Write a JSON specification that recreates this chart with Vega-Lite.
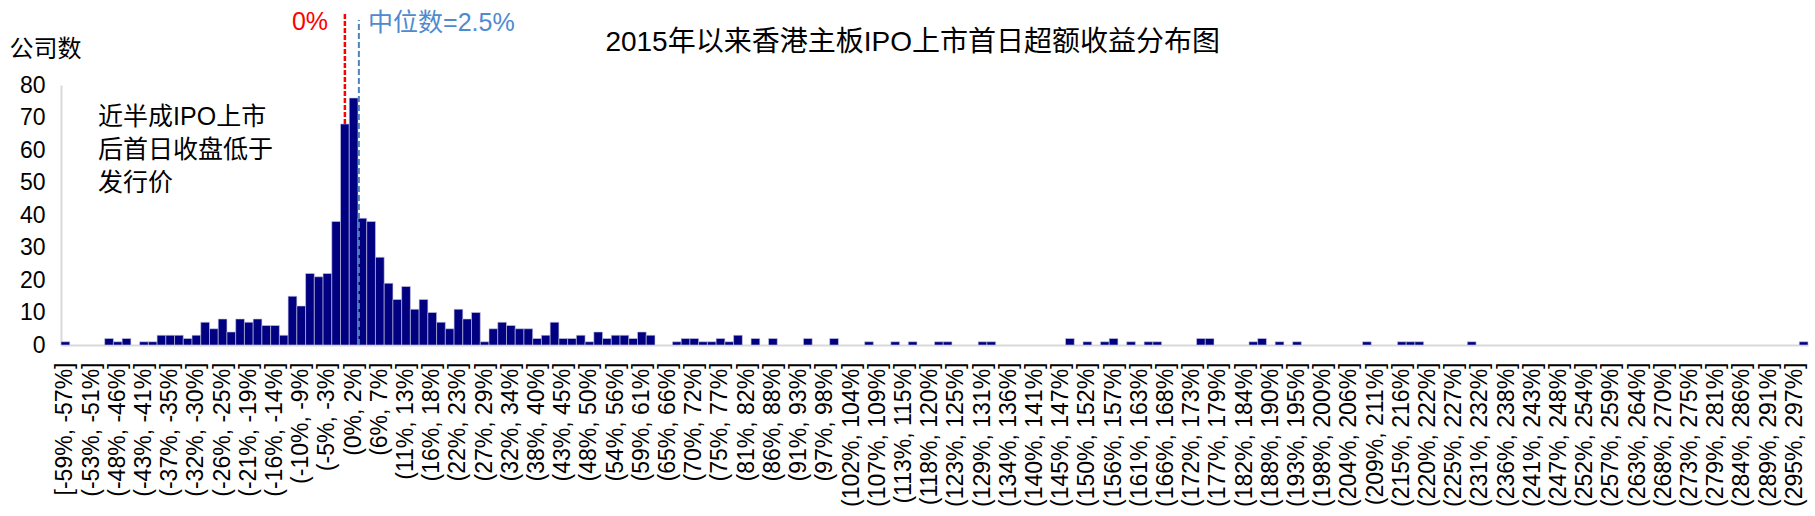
{
  "$schema": "https://vega.github.io/schema/vega-lite/v6.json",
  "autosize": {"type": "none"},
  "width": 1747,
  "height": 260,
  "padding": {"left": 61, "top": 85, "right": 7, "bottom": 171},
  "background": "white",
  "config": {"view": {"stroke": null}},
  "data": {"values": [
    {"bin": "[-59%, -57%]", "n": 1}, {"bin": "(-57%, -55%]", "n": 0}, {"bin": "(-55%, -53%]", "n": 0},
    {"bin": "(-53%, -51%]", "n": 0}, {"bin": "(-51%, -50%]", "n": 0}, {"bin": "(-50%, -48%]", "n": 2},
    {"bin": "(-48%, -46%]", "n": 1}, {"bin": "(-46%, -44%]", "n": 2}, {"bin": "(-44%, -43%]", "n": 0},
    {"bin": "(-43%, -41%]", "n": 1}, {"bin": "(-41%, -39%]", "n": 1}, {"bin": "(-39%, -37%]", "n": 3},
    {"bin": "(-37%, -35%]", "n": 3}, {"bin": "(-35%, -34%]", "n": 3}, {"bin": "(-34%, -32%]", "n": 2},
    {"bin": "(-32%, -30%]", "n": 3}, {"bin": "(-30%, -28%]", "n": 7}, {"bin": "(-28%, -26%]", "n": 5},
    {"bin": "(-26%, -25%]", "n": 8}, {"bin": "(-25%, -23%]", "n": 4}, {"bin": "(-23%, -21%]", "n": 8},
    {"bin": "(-21%, -19%]", "n": 7}, {"bin": "(-19%, -17%]", "n": 8}, {"bin": "(-17%, -16%]", "n": 6},
    {"bin": "(-16%, -14%]", "n": 6}, {"bin": "(-14%, -12%]", "n": 3}, {"bin": "(-12%, -10%]", "n": 15},
    {"bin": "(-10%, -9%]", "n": 12}, {"bin": "(-9%, -7%]", "n": 22}, {"bin": "(-7%, -5%]", "n": 21},
    {"bin": "(-5%, -3%]", "n": 22}, {"bin": "(-3%, -2%]", "n": 38}, {"bin": "(-2%, 0%]", "n": 68},
    {"bin": "(0%, 2%]", "n": 76}, {"bin": "(2%, 4%]", "n": 39}, {"bin": "(4%, 6%]", "n": 38},
    {"bin": "(6%, 7%]", "n": 27}, {"bin": "(7%, 9%]", "n": 19}, {"bin": "(9%, 11%]", "n": 14},
    {"bin": "(11%, 13%]", "n": 18}, {"bin": "(13%, 15%]", "n": 11}, {"bin": "(15%, 16%]", "n": 14},
    {"bin": "(16%, 18%]", "n": 10}, {"bin": "(18%, 20%]", "n": 7}, {"bin": "(20%, 22%]", "n": 5},
    {"bin": "(22%, 23%]", "n": 11}, {"bin": "(23%, 25%]", "n": 8}, {"bin": "(25%, 27%]", "n": 10},
    {"bin": "(27%, 29%]", "n": 1}, {"bin": "(29%, 31%]", "n": 5}, {"bin": "(31%, 32%]", "n": 7},
    {"bin": "(32%, 34%]", "n": 6}, {"bin": "(34%, 36%]", "n": 5}, {"bin": "(36%, 38%]", "n": 5},
    {"bin": "(38%, 40%]", "n": 2}, {"bin": "(40%, 41%]", "n": 3}, {"bin": "(41%, 43%]", "n": 7},
    {"bin": "(43%, 45%]", "n": 2}, {"bin": "(45%, 47%]", "n": 2}, {"bin": "(47%, 48%]", "n": 3},
    {"bin": "(48%, 50%]", "n": 1}, {"bin": "(50%, 52%]", "n": 4}, {"bin": "(52%, 54%]", "n": 2},
    {"bin": "(54%, 56%]", "n": 3}, {"bin": "(56%, 57%]", "n": 3}, {"bin": "(57%, 59%]", "n": 2},
    {"bin": "(59%, 61%]", "n": 4}, {"bin": "(61%, 63%]", "n": 3}, {"bin": "(63%, 65%]", "n": 0},
    {"bin": "(65%, 66%]", "n": 0}, {"bin": "(66%, 68%]", "n": 1}, {"bin": "(68%, 70%]", "n": 2},
    {"bin": "(70%, 72%]", "n": 2}, {"bin": "(72%, 73%]", "n": 1}, {"bin": "(73%, 75%]", "n": 1},
    {"bin": "(75%, 77%]", "n": 2}, {"bin": "(77%, 79%]", "n": 1}, {"bin": "(79%, 81%]", "n": 3},
    {"bin": "(81%, 82%]", "n": 0}, {"bin": "(82%, 84%]", "n": 2}, {"bin": "(84%, 86%]", "n": 0},
    {"bin": "(86%, 88%]", "n": 2}, {"bin": "(88%, 90%]", "n": 0}, {"bin": "(90%, 91%]", "n": 0},
    {"bin": "(91%, 93%]", "n": 0}, {"bin": "(93%, 95%]", "n": 2}, {"bin": "(95%, 97%]", "n": 0},
    {"bin": "(97%, 98%]", "n": 0}, {"bin": "(98%, 100%]", "n": 2}, {"bin": "(100%, 102%]", "n": 0},
    {"bin": "(102%, 104%]", "n": 0}, {"bin": "(104%, 106%]", "n": 0}, {"bin": "(106%, 107%]", "n": 1},
    {"bin": "(107%, 109%]", "n": 0}, {"bin": "(109%, 111%]", "n": 0}, {"bin": "(111%, 113%]", "n": 1},
    {"bin": "(113%, 115%]", "n": 0}, {"bin": "(115%, 116%]", "n": 1}, {"bin": "(116%, 118%]", "n": 0},
    {"bin": "(118%, 120%]", "n": 0}, {"bin": "(120%, 122%]", "n": 1}, {"bin": "(122%, 123%]", "n": 1},
    {"bin": "(123%, 125%]", "n": 0}, {"bin": "(125%, 127%]", "n": 0}, {"bin": "(127%, 129%]", "n": 0},
    {"bin": "(129%, 131%]", "n": 1}, {"bin": "(131%, 132%]", "n": 1}, {"bin": "(132%, 134%]", "n": 0},
    {"bin": "(134%, 136%]", "n": 0}, {"bin": "(136%, 138%]", "n": 0}, {"bin": "(138%, 140%]", "n": 0},
    {"bin": "(140%, 141%]", "n": 0}, {"bin": "(141%, 143%]", "n": 0}, {"bin": "(143%, 145%]", "n": 0},
    {"bin": "(145%, 147%]", "n": 0}, {"bin": "(147%, 148%]", "n": 2}, {"bin": "(148%, 150%]", "n": 0},
    {"bin": "(150%, 152%]", "n": 1}, {"bin": "(152%, 154%]", "n": 0}, {"bin": "(154%, 156%]", "n": 1},
    {"bin": "(156%, 157%]", "n": 2}, {"bin": "(157%, 159%]", "n": 0}, {"bin": "(159%, 161%]", "n": 1},
    {"bin": "(161%, 163%]", "n": 0}, {"bin": "(163%, 164%]", "n": 1}, {"bin": "(164%, 166%]", "n": 1},
    {"bin": "(166%, 168%]", "n": 0}, {"bin": "(168%, 170%]", "n": 0}, {"bin": "(170%, 172%]", "n": 0},
    {"bin": "(172%, 173%]", "n": 0}, {"bin": "(173%, 175%]", "n": 2}, {"bin": "(175%, 177%]", "n": 2},
    {"bin": "(177%, 179%]", "n": 0}, {"bin": "(179%, 181%]", "n": 0}, {"bin": "(181%, 182%]", "n": 0},
    {"bin": "(182%, 184%]", "n": 0}, {"bin": "(184%, 186%]", "n": 1}, {"bin": "(186%, 188%]", "n": 2},
    {"bin": "(188%, 190%]", "n": 0}, {"bin": "(190%, 191%]", "n": 1}, {"bin": "(191%, 193%]", "n": 0},
    {"bin": "(193%, 195%]", "n": 1}, {"bin": "(195%, 197%]", "n": 0}, {"bin": "(197%, 198%]", "n": 0},
    {"bin": "(198%, 200%]", "n": 0}, {"bin": "(200%, 202%]", "n": 0}, {"bin": "(202%, 204%]", "n": 0},
    {"bin": "(204%, 206%]", "n": 0}, {"bin": "(206%, 207%]", "n": 0}, {"bin": "(207%, 209%]", "n": 1},
    {"bin": "(209%, 211%]", "n": 0}, {"bin": "(211%, 213%]", "n": 0}, {"bin": "(213%, 215%]", "n": 0},
    {"bin": "(215%, 216%]", "n": 1}, {"bin": "(216%, 218%]", "n": 1}, {"bin": "(218%, 220%]", "n": 1},
    {"bin": "(220%, 222%]", "n": 0}, {"bin": "(222%, 223%]", "n": 0}, {"bin": "(223%, 225%]", "n": 0},
    {"bin": "(225%, 227%]", "n": 0}, {"bin": "(227%, 229%]", "n": 0}, {"bin": "(229%, 231%]", "n": 1},
    {"bin": "(231%, 232%]", "n": 0}, {"bin": "(232%, 234%]", "n": 0}, {"bin": "(234%, 236%]", "n": 0},
    {"bin": "(236%, 238%]", "n": 0}, {"bin": "(238%, 240%]", "n": 0}, {"bin": "(240%, 241%]", "n": 0},
    {"bin": "(241%, 243%]", "n": 0}, {"bin": "(243%, 245%]", "n": 0}, {"bin": "(245%, 247%]", "n": 0},
    {"bin": "(247%, 248%]", "n": 0}, {"bin": "(248%, 250%]", "n": 0}, {"bin": "(250%, 252%]", "n": 0},
    {"bin": "(252%, 254%]", "n": 0}, {"bin": "(254%, 256%]", "n": 0}, {"bin": "(256%, 257%]", "n": 0},
    {"bin": "(257%, 259%]", "n": 0}, {"bin": "(259%, 261%]", "n": 0}, {"bin": "(261%, 263%]", "n": 0},
    {"bin": "(263%, 264%]", "n": 0}, {"bin": "(264%, 266%]", "n": 0}, {"bin": "(266%, 268%]", "n": 0},
    {"bin": "(268%, 270%]", "n": 0}, {"bin": "(270%, 272%]", "n": 0}, {"bin": "(272%, 273%]", "n": 0},
    {"bin": "(273%, 275%]", "n": 0}, {"bin": "(275%, 277%]", "n": 0}, {"bin": "(277%, 279%]", "n": 0},
    {"bin": "(279%, 281%]", "n": 0}, {"bin": "(281%, 282%]", "n": 0}, {"bin": "(282%, 284%]", "n": 0},
    {"bin": "(284%, 286%]", "n": 0}, {"bin": "(286%, 288%]", "n": 0}, {"bin": "(288%, 289%]", "n": 0},
    {"bin": "(289%, 291%]", "n": 0}, {"bin": "(291%, 293%]", "n": 0}, {"bin": "(293%, 295%]", "n": 0},
    {"bin": "(295%, 297%]", "n": 0}, {"bin": "(297%, 299%]", "n": 1}
  ]},
  "encoding": {
    "x": {
      "field": "bin", "type": "nominal", "sort": null,
      "scale": {"paddingInner": 0, "paddingOuter": 0},
      "axis": {
        "title": null,
        "labelAngle": -90,
        "labelFont": "Liberation Sans",
        "labelFontSize": 23,
        "labelColor": "#000000",
        "labelPadding": 17,
        "labelOverlap": false,
        "labelBound": false,
        "labelFlush": false,
        "ticks": false,
        "domainColor": "#d9d9d9",
        "domainWidth": 2,
        "values": ["[-59%, -57%]", "(-53%, -51%]", "(-48%, -46%]", "(-43%, -41%]", "(-37%, -35%]", "(-32%, -30%]", "(-26%, -25%]", "(-21%, -19%]", "(-16%, -14%]", "(-10%, -9%]", "(-5%, -3%]", "(0%, 2%]", "(6%, 7%]", "(11%, 13%]", "(16%, 18%]", "(22%, 23%]", "(27%, 29%]", "(32%, 34%]", "(38%, 40%]", "(43%, 45%]", "(48%, 50%]", "(54%, 56%]", "(59%, 61%]", "(65%, 66%]", "(70%, 72%]", "(75%, 77%]", "(81%, 82%]", "(86%, 88%]", "(91%, 93%]", "(97%, 98%]", "(102%, 104%]", "(107%, 109%]", "(113%, 115%]", "(118%, 120%]", "(123%, 125%]", "(129%, 131%]", "(134%, 136%]", "(140%, 141%]", "(145%, 147%]", "(150%, 152%]", "(156%, 157%]", "(161%, 163%]", "(166%, 168%]", "(172%, 173%]", "(177%, 179%]", "(182%, 184%]", "(188%, 190%]", "(193%, 195%]", "(198%, 200%]", "(204%, 206%]", "(209%, 211%]", "(215%, 216%]", "(220%, 222%]", "(225%, 227%]", "(231%, 232%]", "(236%, 238%]", "(241%, 243%]", "(247%, 248%]", "(252%, 254%]", "(257%, 259%]", "(263%, 264%]", "(268%, 270%]", "(273%, 275%]", "(279%, 281%]", "(284%, 286%]", "(289%, 291%]", "(295%, 297%]"]
      }
    },
    "y": {
      "field": "n", "type": "quantitative",
      "scale": {"domain": [0, 80], "nice": false, "zero": true},
      "axis": {
        "values": [0, 10, 20, 30, 40, 50, 60, 70, 80],
        "labelOverlap": false,
        "title": "公司数",
        "titleAngle": 0,
        "titleAlign": "left",
        "titleBaseline": "middle",
        "titleX": -52,
        "titleY": -36,
        "titleFont": "Noto Sans CJK SC",
        "titleFontSize": 24,
        "titleFontWeight": "normal",
        "titleColor": "#000000",
        "labelFont": "Liberation Sans",
        "labelFontSize": 23,
        "labelColor": "#000000",
        "labelPadding": 16,
        "ticks": false,
        "grid": false,
        "domainColor": "#d9d9d9",
        "domainWidth": 2
      }
    }
  },
  "layer": [
    {
      "mark": {"type": "bar", "fill": "#000080", "stroke": "#c8c8e4", "strokeWidth": 0.6},
      "encoding": {
        "strokeOpacity": {"condition": {"test": "datum.n > 0", "value": 1}, "value": 0}
      }
    },
    {
      "data": {"values": [
        {"bin": "(-2%, 0%]", "n": 68, "n2": 102}
      ]},
      "mark": {"type": "rule", "color": "#ff0000", "strokeWidth": 2.5, "strokeDash": [5, 2]},
      "encoding": {
        "y2": {"field": "n2"}
      }
    },
    {
      "data": {"values": [
        {"bin": "(2%, 4%]", "n": 0, "n2": 100}
      ]},
      "mark": {"type": "rule", "color": "#4f81bd", "strokeWidth": 2, "strokeDash": [6, 3]},
      "encoding": {
        "x": {"field": "bin", "type": "nominal", "sort": null, "bandPosition": 0.1},
        "y2": {"field": "n2"}
      }
    },
    {
      "data": {"values": [
        {"bin": "(-9%, -7%]", "n": 99.5, "label": "0%"}
      ]},
      "mark": {"type": "text", "color": "#ff0000", "font": "Liberation Sans", "fontSize": 25, "align": "center", "baseline": "middle"},
      "encoding": {
        "text": {"field": "label"}
      }
    },
    {
      "data": {"values": [
        {"bin": "(4%, 6%]", "n": 99.2, "label": "中位数=2.5%"}
      ]},
      "mark": {"type": "text", "color": "#4e8ad0", "font": "Liberation Sans, Noto Sans CJK SC", "fontSize": 25, "align": "left", "baseline": "middle"},
      "encoding": {
        "x": {"field": "bin", "type": "nominal", "sort": null, "bandPosition": 0.15},
        "text": {"field": "label"}
      }
    },
    {
      "data": {"values": [
        {"bin": "(115%, 116%]", "n": 92.8, "label": "2015年以来香港主板IPO上市首日超额收益分布图"}
      ]},
      "mark": {"type": "text", "color": "#000000", "font": "Liberation Sans, Noto Sans CJK SC", "fontSize": 28, "align": "center", "baseline": "middle"},
      "encoding": {
        "text": {"field": "label"}
      }
    },
    {
      "data": {"values": [
        {"bin": "(-51%, -50%]", "n": 70.3, "label": "近半成IPO上市"},
        {"bin": "(-51%, -50%]", "n": 60.1, "label": "后首日收盘低于"},
        {"bin": "(-51%, -50%]", "n": 50.0, "label": "发行价"}
      ]},
      "mark": {"type": "text", "color": "#000000", "font": "Liberation Sans, Noto Sans CJK SC", "fontSize": 25, "align": "left", "baseline": "middle"},
      "encoding": {
        "x": {"field": "bin", "type": "nominal", "sort": null, "bandPosition": 0.25},
        "text": {"field": "label"}
      }
    }
  ]
}
